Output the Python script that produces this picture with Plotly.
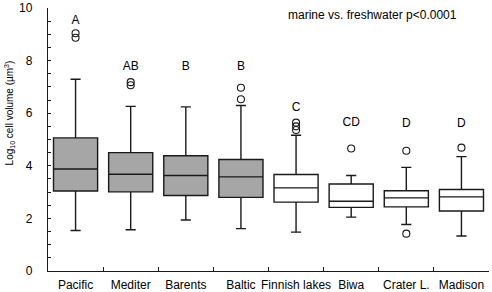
import plotly.graph_objects as go

categories = ["Pacific", "Mediter", "Barents", "Baltic", "Finnish lakes", "Biwa", "Crater L.", "Madison"]
marine = ["Pacific", "Mediter", "Barents", "Baltic"]
fresh = ["Finnish lakes", "Biwa", "Crater L.", "Madison"]

lower_m = [1.54, 1.57, 1.94, 1.61]
q1_m = [3.04, 3.01, 2.87, 2.80]
med_m = [3.88, 3.68, 3.63, 3.58]
q3_m = [5.06, 4.50, 4.38, 4.24]
upper_m = [7.29, 6.26, 6.24, 6.29]

lower_f = [1.48, 2.05, 1.77, 1.33]
q1_f = [2.62, 2.42, 2.44, 2.28]
med_f = [3.16, 2.65, 2.78, 2.82]
q3_f = [3.67, 3.31, 3.05, 3.10]
upper_f = [5.16, 3.63, 3.94, 4.35]

out_x = ["Pacific", "Pacific", "Mediter", "Mediter", "Baltic", "Baltic",
         "Finnish lakes", "Finnish lakes", "Finnish lakes", "Biwa", "Crater L.", "Crater L.", "Madison"]
out_y = [9.04, 8.87, 7.18, 7.06, 6.97, 6.53,
         5.64, 5.50, 5.36, 4.66, 4.57, 1.42, 4.69]

letters = ["A", "AB", "B", "B", "C", "CD", "D", "D"]
letter_y = [9.49, 7.75, 7.75, 7.75, 6.21, 5.64, 5.60, 5.60]

font = "Arial, Liberation Sans, sans-serif"
line_c = "#1a1a1a"

fig = go.Figure()
fig.add_trace(go.Box(
    x=marine, q1=q1_m, median=med_m, q3=q3_m, lowerfence=lower_m, upperfence=upper_m,
    fillcolor="#a6a6a6", line=dict(color=line_c, width=1.4), width=0.8, whiskerwidth=0.23,
    boxpoints=False, showlegend=False, hoverinfo="skip"))
fig.add_trace(go.Box(
    x=fresh, q1=q1_f, median=med_f, q3=q3_f, lowerfence=lower_f, upperfence=upper_f,
    fillcolor="white", line=dict(color=line_c, width=1.4), width=0.8, whiskerwidth=0.23,
    boxpoints=False, showlegend=False, hoverinfo="skip"))
fig.add_trace(go.Scatter(
    x=out_x, y=out_y, mode="markers",
    marker=dict(symbol="circle-open", size=7, color=line_c, line=dict(width=1.1)),
    showlegend=False, hoverinfo="skip"))
fig.add_trace(go.Scatter(
    x=categories, y=letter_y, mode="text", text=letters,
    textfont=dict(family=font, size=12, color="black"),
    showlegend=False, hoverinfo="skip"))

fig.add_annotation(text="marine vs. freshwater p<0.0001", xref="paper", yref="paper",
                   x=0.735, y=0.973, xanchor="center", yanchor="middle", showarrow=False,
                   font=dict(family=font, size=12, color="black"))

fig.add_annotation(text="Log<sub>10</sub> cell volume (µm<sup>3</sup>)", xref="paper", yref="paper",
                   x=-0.088, y=0.60, xanchor="center", yanchor="middle", textangle=-90,
                   showarrow=False, font=dict(family=font, size=10, color="black"))

fig.update_layout(
    width=492, height=292,
    margin=dict(l=48, r=3, t=8, b=21),
    paper_bgcolor="white", plot_bgcolor="white",
    boxmode="overlay",
    font=dict(family=font, size=12, color="black"),
    xaxis=dict(type="category", categoryorder="array", categoryarray=categories,
               range=[-0.5, 7.5], showline=True, linecolor=line_c, linewidth=1.3,
               ticks="inside", tickson="boundaries", ticklen=4, tickcolor=line_c,
               tickangle=0, automargin=False, ticklabelstandoff=2,
               showgrid=False, zeroline=False, tickfont=dict(size=12)),
    yaxis=dict(range=[0, 10], tickvals=[0, 2, 4, 6, 8, 10], showline=True, linecolor=line_c,
               linewidth=1.3, ticks="inside", ticklen=3, tickcolor=line_c,
               minor=dict(dtick=0.5, ticks="inside", ticklen=3, tickcolor=line_c, showgrid=False),
               showgrid=False, zeroline=False, ticklabelstandoff=12, tickfont=dict(size=12),
               automargin=False),
)

fig.write_html("out.html", config={"displayModeBar": False},
               post_script="document.body.style.margin='0';")
